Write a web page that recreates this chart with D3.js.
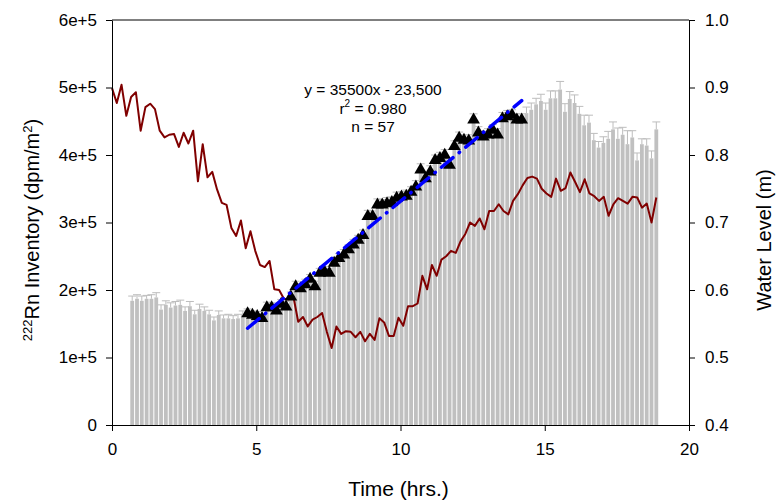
<!doctype html>
<html>
<head>
<script src="https://cdnjs.cloudflare.com/ajax/libs/d3/7.8.5/d3.min.js"></script>
<style>
  body { margin: 0; background: #fff; }
  svg text { font-family: "Liberation Sans", Arial, sans-serif; fill: #000; }
</style>
</head>
<body>
<svg id="chart" width="781" height="500"></svg>
<script>
// sampling: bars every 10 min starting at 0.7 h, water level from t = 0
var barStart = 0.7, barStep = 1 / 6;
var wlStep = 0.1655;

// 222Rn inventory (x 1e5 dpm/m2), one per bar
var inventory = [
  1.84, 1.87, 1.84, 1.87, 1.87, 1.89, 1.71, 1.78, 1.74, 1.77,
  1.78, 1.69, 1.76, 1.64, 1.72, 1.69, 1.64, 1.55, 1.63, 1.58,
  1.58, 1.57, 1.58, 1.64, 1.65, 1.63, 1.61, 1.58, 1.74, 1.74,
  1.69, 1.79, 1.75, 1.90, 2.05, 2.02, 2.08, 2.16, 2.05, 2.25,
  2.27, 2.25, 2.40, 2.47, 2.52, 2.60, 2.67, 2.74, 2.81, 3.09,
  3.09, 3.26, 3.26, 3.28, 3.30, 3.36, 3.38, 3.39, 3.45, 3.53,
  3.78, 3.65, 3.75, 3.92, 3.95, 4.00, 3.85, 4.13, 4.25, 4.22,
  4.21, 4.52, 4.33, 4.27, 4.30, 4.37, 4.30, 4.54, 4.57, 4.59,
  4.52, 4.52, 4.62, 4.67, 4.75, 4.80, 4.67, 4.84, 4.84, 4.97,
  4.64, 4.83, 4.77, 4.61, 4.44, 4.48, 4.22, 4.11, 4.18, 4.24,
  4.38, 4.24, 4.30, 4.16, 4.26, 3.92, 4.16, 4.14, 3.95, 4.38
];
// error bar (upper), same units
var inventoryErr = [
  0.07, 0.06, 0.07, 0.05, 0.06, 0.07, 0.07, 0.06, 0.07, 0.06,
  0.07, 0.06, 0.07, 0.06, 0.07, 0.06, 0.06, 0.05, 0.06, 0.05,
  0.06, 0.05, 0.06, 0.05, 0.07, 0.06, 0.07, 0.06, 0.08, 0.07,
  0.08, 0.07, 0.08, 0.07, 0.08, 0.07, 0.08, 0.07, 0.08, 0.07,
  0.08, 0.07, 0.08, 0.07, 0.08, 0.07, 0.08, 0.07, 0.08, 0.09,
  0.08, 0.09, 0.08, 0.09, 0.08, 0.09, 0.08, 0.09, 0.08, 0.09,
  0.09, 0.08, 0.09, 0.08, 0.09, 0.08, 0.09, 0.08, 0.09, 0.08,
  0.09, 0.09, 0.09, 0.08, 0.09, 0.08, 0.09, 0.09, 0.09, 0.08,
  0.09, 0.09, 0.09, 0.10, 0.09, 0.10, 0.10, 0.11, 0.11, 0.12,
  0.12, 0.11, 0.12, 0.11, 0.15, 0.11, 0.10, 0.09, 0.09, 0.11,
  0.11, 0.16, 0.11, 0.20, 0.10, 0.11, 0.08, 0.10, 0.11, 0.11
];
// bars used for the regression (black triangles)
var fitFirst = 24, fitLast = 81;
var slope = 35500, intercept = -23500;
var fitText = ["y = 35500x - 23,500", "r2 = 0.980", "n = 57"];

// water level (m)
var waterLevel = [
  0.899, 0.877, 0.904, 0.858, 0.886, 0.893, 0.836, 0.871, 0.876, 0.868,
  0.836, 0.826, 0.830, 0.831, 0.812, 0.833, 0.817, 0.836, 0.761, 0.816,
  0.767, 0.775, 0.749, 0.729, 0.726, 0.692, 0.680, 0.703, 0.662, 0.687,
  0.658, 0.637, 0.634, 0.643, 0.601, 0.600, 0.587, 0.586, 0.590, 0.553,
  0.560, 0.546, 0.556, 0.560, 0.566, 0.538, 0.514, 0.546, 0.535, 0.539,
  0.538, 0.530, 0.538, 0.524, 0.535, 0.526, 0.558, 0.552, 0.532, 0.532,
  0.559, 0.547, 0.576, 0.576, 0.580, 0.621, 0.601, 0.637, 0.621, 0.645,
  0.650, 0.658, 0.655, 0.672, 0.683, 0.700, 0.695, 0.706, 0.690, 0.717,
  0.717, 0.727, 0.717, 0.712, 0.732, 0.742, 0.755, 0.766, 0.768, 0.765,
  0.750, 0.743, 0.738, 0.765, 0.747, 0.751, 0.774, 0.760, 0.745, 0.764,
  0.743, 0.739, 0.732, 0.738, 0.710, 0.727, 0.736, 0.732, 0.728, 0.738,
  0.737, 0.722, 0.728, 0.700, 0.737
];

var xTicks = [0, 5, 10, 15, 20];
var yTicks = [0, 1e5, 2e5, 3e5, 4e5, 5e5, 6e5];
var wlTicks = [0.4, 0.5, 0.6, 0.7, 0.8, 0.9, 1.0];

var bars = inventory.map(function(v, i) {
  return { t: barStart + i * barStep, v: v * 1e5, e: inventoryErr[i] * 1e5 };
});
var fitPts = bars.slice(fitFirst, fitLast + 1);
var wl = waterLevel.map(function(v, i) { return { t: i * wlStep, v: v }; });

var svg = d3.select("#chart");
var pL = 112, pR = 689, pT = 20, pB = 425;

var x = d3.scaleLinear().domain([0, 20]).range([pL, pR]);
var y = d3.scaleLinear().domain([0, 6e5]).range([pB, pT]);
var y2 = d3.scaleLinear().domain([0.4, 1.0]).range([pB, pT]);

var bw = x(barStep) - x(0) - 1;

// error bars (only upper part shows above the bar)
var eb = svg.append("g").attr("stroke", "#bdbdbd").attr("stroke-width", 1);
eb.selectAll("line.stem").data(bars).enter().append("line")
  .attr("x1", d => x(d.t)).attr("x2", d => x(d.t))
  .attr("y1", d => y(d.v)).attr("y2", d => y(d.v + d.e));
eb.selectAll("line.cap").data(bars).enter().append("line")
  .attr("x1", d => x(d.t) - 4).attr("x2", d => x(d.t) + 4)
  .attr("y1", d => y(d.v + d.e)).attr("y2", d => y(d.v + d.e));

svg.append("g").selectAll("rect").data(bars).enter().append("rect")
  .attr("x", d => x(d.t) - bw / 2)
  .attr("width", bw)
  .attr("y", d => y(d.v))
  .attr("height", d => pB - y(d.v))
  .attr("fill", "#c0c0c0");

// water level line
svg.append("path").datum(wl)
  .attr("d", d3.line().x(d => x(d.t)).y(d => y2(d.v)))
  .attr("fill", "none")
  .attr("stroke", "#800000")
  .attr("stroke-width", 2)
  .attr("stroke-linejoin", "round");

// triangles
svg.append("g").selectAll("path").data(fitPts).enter().append("path")
  .attr("d", d3.symbol().type(d3.symbolTriangle).size(70))
  .attr("transform", d => "translate(" + x(d.t) + "," + y(d.v) + ")")
  .attr("fill", "#000");

// regression line
var t0 = fitPts[0].t, t1 = fitPts[fitPts.length - 1].t;
svg.append("line")
  .attr("x1", x(t0)).attr("y1", y(slope * t0 + intercept))
  .attr("x2", x(t1)).attr("y2", y(slope * t1 + intercept))
  .attr("stroke", "#0000ff")
  .attr("stroke-width", 3.5)
  .attr("stroke-linecap", "round")
  .attr("stroke-dasharray", "15,8,0.5,8");

// axes
var fmtInv = function(v) { return v === 0 ? "0" : (v / 1e5) + "e+5"; };

var gx = svg.append("g").attr("transform", "translate(0," + pB + ")")
  .call(d3.axisBottom(x).tickValues(xTicks).tickSize(6).tickSizeOuter(0).tickPadding(12));
var gy = svg.append("g").attr("transform", "translate(" + pL + ",0)")
  .call(d3.axisLeft(y).tickValues(yTicks).tickFormat(fmtInv).tickSize(6).tickSizeOuter(0).tickPadding(9));
var gy2 = svg.append("g").attr("transform", "translate(" + pR + ",0)")
  .call(d3.axisRight(y2).tickValues(wlTicks).tickFormat(d3.format(".1f")).tickSize(6).tickSizeOuter(0).tickPadding(10));

[gx, gy, gy2].forEach(function(g) {
  g.selectAll("text").attr("font-size", 17).attr("font-family", null);
  g.select(".domain").attr("stroke", "#000");
  g.selectAll(".tick line").attr("stroke", "#000");
});

svg.append("line")
  .attr("x1", pL).attr("x2", pR).attr("y1", pT).attr("y2", pT)
  .attr("stroke", "#000");

// regression text
var ann = svg.append("g").attr("font-size", 15.5).attr("text-anchor", "middle");
ann.append("text").attr("x", 373).attr("y", 95).text(fitText[0]);
var r2 = ann.append("text").attr("x", 373).attr("y", 113.5);
r2.append("tspan").text("r");
r2.append("tspan").attr("font-size", 10).attr("dy", -7).text("2");
r2.append("tspan").attr("dy", 7).text(" = 0.980");
ann.append("text").attr("x", 373).attr("y", 132).text(fitText[2]);

// axis titles
svg.append("text")
  .attr("x", (pL + pR) / 2 - 2).attr("y", 496)
  .attr("text-anchor", "middle").attr("font-size", 21)
  .text("Time (hrs.)");

var yt = svg.append("text")
  .attr("transform", "translate(39,230) rotate(-90)")
  .attr("text-anchor", "middle").attr("font-size", 20);
yt.append("tspan").attr("font-size", 13).attr("dy", -7).text("222");
yt.append("tspan").attr("dy", 7).text("Rn Inventory (dpm/m");
yt.append("tspan").attr("font-size", 13).attr("dy", -7).text("2");
yt.append("tspan").attr("dy", 7).text(")");

svg.append("text")
  .attr("transform", "translate(771,240) rotate(-90)")
  .attr("text-anchor", "middle").attr("font-size", 20)
  .text("Water Level (m)");
</script>
</body>
</html>
